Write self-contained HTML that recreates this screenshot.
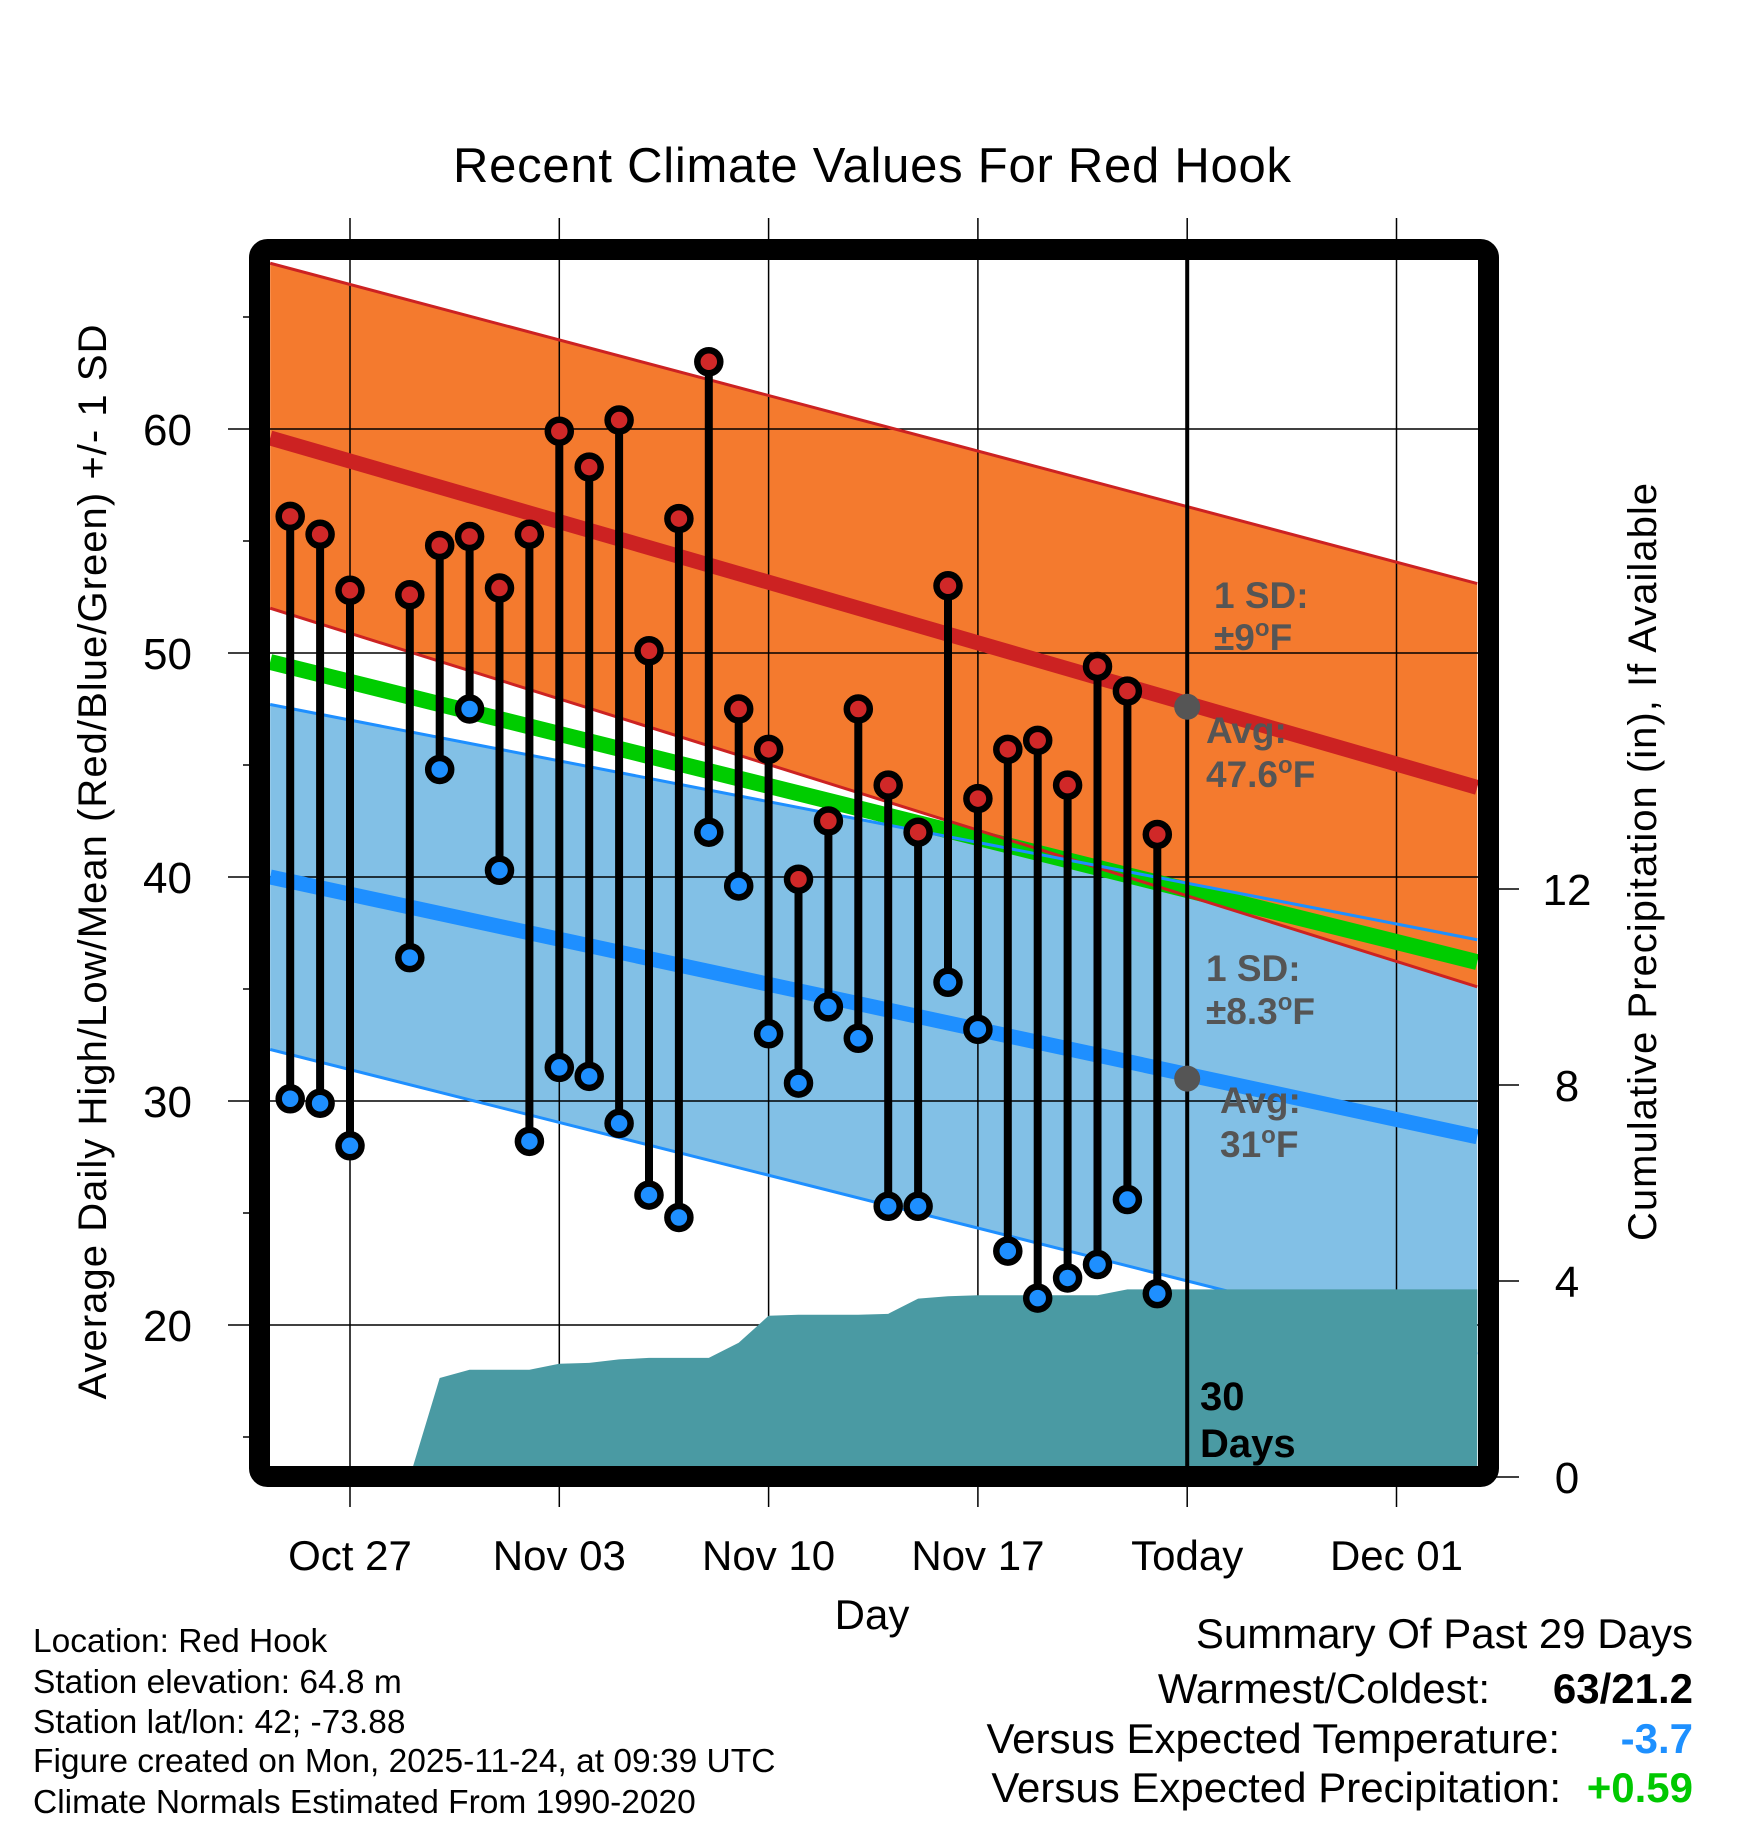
<!DOCTYPE html>
<html><head><meta charset="utf-8"><style>
html,body{margin:0;padding:0;background:#fff;}
svg{display:block;font-family:"Liberation Sans",Arial,sans-serif;}
</style></head><body>
<svg id="chart" width="1748" height="1828" viewBox="0 0 1748 1828" xmlns="http://www.w3.org/2000/svg">
<defs><clipPath id="plotclip"><rect x="270" y="260" width="1208" height="1206"/></clipPath></defs>
<text x="872" y="182" font-size="49" text-anchor="middle" textLength="838">Recent Climate Values For Red Hook</text>
<g id="bands" clip-path="url(#plotclip)"></g>
<g id="grid"></g>
<g id="lines" clip-path="url(#plotclip)"></g>
<g id="precip" clip-path="url(#plotclip)"></g>
<g id="marks"></g>
<g id="annot" font-weight="bold" font-size="37" fill="#555">
<text x="1214" y="608">1 SD:</text>
<text x="1214" y="650">±9<tspan font-size="24" dy="-14">o</tspan><tspan dy="14">F</tspan></text>
<text x="1206" y="743">Avg:</text>
<text x="1206" y="787">47.6<tspan font-size="24" dy="-14">o</tspan><tspan dy="14">F</tspan></text>
<text x="1206" y="981">1 SD:</text>
<text x="1206" y="1024">±8.3<tspan font-size="24" dy="-14">o</tspan><tspan dy="14">F</tspan></text>
<text x="1220" y="1113">Avg:</text>
<text x="1220" y="1157">31<tspan font-size="24" dy="-14">o</tspan><tspan dy="14">F</tspan></text>
<text x="1200" y="1410" fill="#000" font-size="40">30</text>
<text x="1200" y="1457" fill="#000" font-size="40">Days</text>
</g>
<rect x="259.5" y="249.5" width="1229" height="1227" rx="8" fill="none" stroke="#000" stroke-width="21"/>
<g id="axes"></g>
<text x="872" y="1629" font-size="42" text-anchor="middle">Day</text>
<text transform="translate(106,862) rotate(-90)" font-size="40" text-anchor="middle" textLength="1075">Average Daily High/Low/Mean (Red/Blue/Green) +/- 1 SD</text>
<text transform="translate(1656,862) rotate(-90)" font-size="40" text-anchor="middle" textLength="758">Cumulative Precipitation (in), If Available</text>
<g font-size="33.5">
<text x="33" y="1652">Location: Red Hook</text>
<text x="33" y="1693">Station elevation: 64.8 m</text>
<text x="33" y="1733">Station lat/lon: 42; -73.88</text>
<text x="33" y="1772">Figure created on Mon, 2025-11-24, at 09:39 UTC</text>
<text x="33" y="1813">Climate Normals Estimated From 1990-2020</text>
</g>
<g font-size="42" text-anchor="end">
<text x="1693" y="1648">Summary Of Past 29 Days</text>
<text x="1490" y="1703">Warmest/Coldest:</text>
<text x="1693" y="1703" font-weight="bold">63/21.2</text>
<text x="1560" y="1753">Versus Expected Temperature:</text>
<text x="1693" y="1753" font-weight="bold" fill="#1e90ff">-3.7</text>
<text x="1561" y="1802">Versus Expected Precipitation:</text>
<text x="1693" y="1802" font-weight="bold" fill="#00c800">+0.59</text>
</g>
</svg>
<script>
// day offsets from Oct 27
const days = [-2,-1,0,2,3,4,5,6,7,8,9,10,11,12,13,14,15,16,17,18,19,20,21,22,23,24,25,26,27];
const highs = [56.1,55.3,52.8,52.6,54.8,55.2,52.9,55.3,59.9,58.3,60.4,50.1,56.0,63.0,47.5,45.7,39.9,42.5,47.5,44.1,42.0,53.0,43.5,45.7,46.1,44.1,49.4,48.3,41.9];
const lows = [30.1,29.9,28.0,36.4,44.8,47.5,40.3,28.2,31.5,31.1,29.0,25.8,24.8,42.0,39.6,33.0,30.8,34.2,32.8,25.3,25.3,35.3,33.2,23.3,21.2,22.1,22.7,25.6,21.4];
const precipDays = [2,3,4,5,6,7,8,9,10,11,12,13,14,15,16,17,18,19,20,21,22,23,24,25,26,27,37.7];
const precipVals = [0,2.02,2.19,2.19,2.19,2.31,2.33,2.40,2.43,2.43,2.43,2.74,3.29,3.31,3.31,3.31,3.33,3.64,3.69,3.71,3.71,3.71,3.71,3.71,3.83,3.83,3.83];
const normDays = [-2.67,37.7];
const hiAvg = [59.6,44.0];
const hiUp = [67.4,53.1];
const hiLo = [52.0,35.1];
const loAvg = [40.0,28.4];
const loUp = [47.7,37.2];
const loLo = [32.3,18.7];
const meanAvg = [49.6,36.2];
const todayDay = 28;
const todayHigh = 47.6, todayLow = 31;
const yTicks = [20,30,40,50,60];
const yMinor = [15,25,35,45,55,65];
const pTicks = [0,4,8,12];
const xTickDays = [0,7,14,21,28,35];
const xTickLabels = ["Oct 27","Nov 03","Nov 10","Nov 17","Today","Dec 01"];

const NS="http://www.w3.org/2000/svg";
const X=d=>350+d*29.9;
const Y=t=>429+(60-t)*22.4;
const P=p=>1477-p*49;
function mk(parent,tag,attrs){const e=document.createElementNS(NS,tag);for(const k in attrs)e.setAttribute(k,attrs[k]);document.getElementById(parent).appendChild(e);return e;}
function band(up,lo,fill,name){
  const d=`M${X(normDays[0])},${Y(up[0])}L${X(normDays[1])},${Y(up[1])}L${X(normDays[1])},${Y(lo[1])}L${X(normDays[0])},${Y(lo[0])}Z`;
  const e=mk('bands','path',{d:d,fill:fill});
  
  
}
function line(arr,color,w,name){
  const e=mk('lines','line',{x1:X(normDays[0]),y1:Y(arr[0]),x2:X(normDays[1]),y2:Y(arr[1]),stroke:color,'stroke-width':w});
  
  
}
band(loUp,loLo,'#82c0e6','low-sd-band');
band(hiUp,hiLo,'#f47a2e','high-sd-band');
// grid
yTicks.forEach(t=>{
  const e=mk('grid','line',{x1:228,y1:Y(t),x2:1478,y2:Y(t),stroke:'#000','stroke-width':1.5});
  
  
});
xTickDays.forEach(d=>{
  const e=mk('grid','line',{x1:X(d),y1:218,x2:X(d),y2:1507,stroke:'#000','stroke-width':1.5});
  
  
});
line(meanAvg,'#00cc00',16,'mean-normal-line');
line(hiUp,'#cc2222',3,'high-upper-sd-line');
line(hiLo,'#cc2222',3,'high-lower-sd-line');
line(loUp,'#1e8fff',3,'low-upper-sd-line');
line(loLo,'#1e8fff',3,'low-lower-sd-line');
line(hiAvg,'#cc2222',15,'high-normal-line');
line(loAvg,'#1e8fff',15,'low-normal-line');
// precip
let pd=`M${X(precipDays[0])},1480`;
precipDays.forEach((d,i)=>{pd+=`L${X(d)},${P(precipVals[i])}`;});
pd+=`L${X(precipDays[precipDays.length-1])},1480Z`;
const pa=mk('precip','path',{d:pd,fill:'#4a9aa3'});


// today line
const tl=mk('marks','line',{x1:X(todayDay),y1:260,x2:X(todayDay),y2:1466,stroke:'#000','stroke-width':4});


// stems and dots
days.forEach((d,i)=>{
  const s=mk('marks','line',{x1:X(d),y1:Y(highs[i]),x2:X(d),y2:Y(lows[i]),stroke:'#000','stroke-width':8});
  
  
});
days.forEach((d,i)=>{
  const h=mk('marks','circle',{cx:X(d),cy:Y(highs[i]),r:11.5,fill:'#d02828',stroke:'#000','stroke-width':6.5});
  
  
  const l=mk('marks','circle',{cx:X(d),cy:Y(lows[i]),r:11.5,fill:'#1e8fff',stroke:'#000','stroke-width':6.5});
  
  
});
const g1=mk('marks','circle',{cx:X(todayDay),cy:Y(todayHigh),r:13,fill:'#555'});


const g2=mk('marks','circle',{cx:X(todayDay),cy:Y(todayLow),r:13,fill:'#555'});


// axes ticks and labels
yTicks.forEach(t=>{
  const e=mk('axes','text',{x:192,y:Y(t)+16,'font-size':44,'text-anchor':'end'});
  e.textContent=t;
  
  
});
yMinor.forEach(t=>{
  const e=mk('axes','line',{x1:243,y1:Y(t),x2:250,y2:Y(t),stroke:'#000','stroke-width':1.5});
  
  
});
pTicks.forEach(p=>{
  const e=mk('axes','line',{x1:1490,y1:P(p),x2:1519,y2:P(p),stroke:'#000','stroke-width':1.5});
  
  
  const t=mk('axes','text',{x:1567,y:P(p)+16,'font-size':44,'text-anchor':'middle'});
  t.textContent=p;
  
  
});
xTickDays.forEach((d,i)=>{
  const t=mk('axes','text',{x:X(d),y:1570,'font-size':42,'text-anchor':'middle'});
  t.textContent=xTickLabels[i];
  
  
});
</script>
</body></html>
